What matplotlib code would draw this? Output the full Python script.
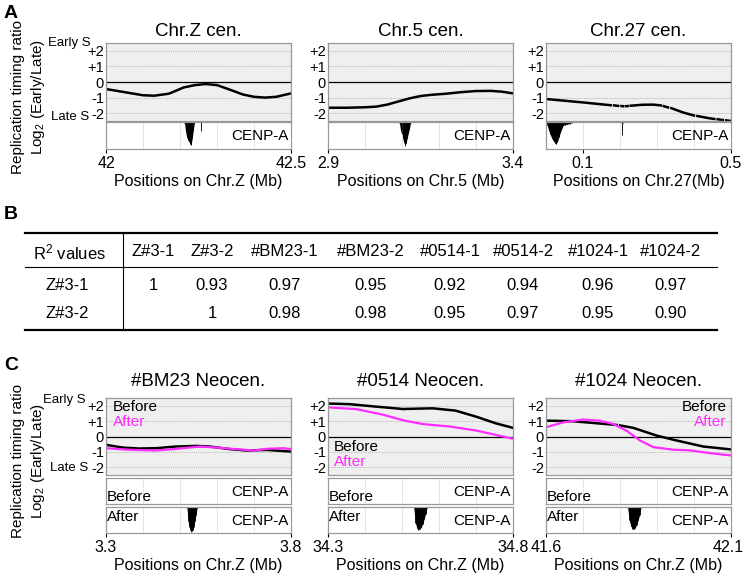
import numpy as np
import matplotlib
matplotlib.use('Agg')
from matplotlib import pyplot as plt
from matplotlib import transforms

plt.rcParams['font.family'] = ['Liberation Sans', 'DejaVu Sans']
plt.rcParams['mathtext.fontset'] = 'custom'
plt.rcParams['mathtext.rm'] = 'Liberation Sans'
plt.rcParams['mathtext.it'] = 'Liberation Sans:italic'

nan = np.nan

# ---- panel A data ----
a_titles = ['Chr.Z cen.', 'Chr.5 cen.', 'Chr.27 cen.']
a_xlims = [(42.0, 42.5), (2.9, 3.4), (0.0, 0.5)]
a_xticks = [[42.0, 42.5], [2.9, 3.4], [0.1, 0.5]]
a_xticklabels = [['42', '42.5'], ['2.9', '3.4'], ['0.1', '0.5']]
a_xlabels = ['Positions on Chr.Z (Mb)', 'Positions on Chr.5 (Mb)', 'Positions on Chr.27(Mb)']

chrZ_x = [42.00, 42.05, 42.10, 42.13, 42.17, 42.21, 42.24, 42.27, 42.30, 42.33, 42.37, 42.40, 42.43, 42.46, 42.50]
chrZ_y = [-0.45, -0.65, -0.85, -0.88, -0.75, -0.35, -0.20, -0.13, -0.20, -0.45, -0.80, -0.95, -1.00, -0.95, -0.73]
chr5_x = [2.90, 2.95, 3.00, 3.03, 3.06, 3.09, 3.12, 3.15, 3.18, 3.22, 3.26, 3.30, 3.34, 3.37, 3.40]
chr5_y = [-1.65, -1.65, -1.62, -1.58, -1.45, -1.25, -1.05, -0.90, -0.82, -0.75, -0.65, -0.58, -0.57, -0.62, -0.73]
chr27_x = [0.00, 0.05, 0.10, 0.15, 0.175, 0.179, 0.184, 0.195, 0.199, 0.204, 0.208, 0.212, 0.216,
           0.221, 0.225, 0.229, 0.26, 0.29, 0.31, 0.314, 0.318, 0.33, 0.335, 0.339, 0.37, 0.40,
           0.405, 0.409, 0.44, 0.455, 0.460, 0.464, 0.478, 0.483, 0.487, 0.50]
chr27_y = [-1.09, -1.20, -1.31, -1.43, -1.49, nan, -1.50, -1.53, nan, -1.54, -1.55, nan, -1.55,
           -1.54, nan, -1.52, -1.46, -1.45, -1.50, nan, -1.55, -1.63, nan, -1.68, -1.95, -2.15,
           nan, -2.18, -2.32, -2.37, nan, -2.39, -2.44, nan, -2.46, -2.50]

cenA1_pos = [42.212, 42.215, 42.218, 42.221, 42.224, 42.227, 42.230, 42.233, 42.236, 42.239]
cenA1_dep = [0.02, 0.35, 0.55, 0.65, 0.72, 0.80, 0.86, 0.60, 0.30, 0.02]
cenA1b_pos = [42.256, 42.257, 42.258]
cenA1b_dep = [0.02, 0.35, 0.02]
cenA2_pos = [3.093, 3.096, 3.099, 3.102, 3.105, 3.108, 3.111, 3.114, 3.117, 3.120, 3.123]
cenA2_dep = [0.02, 0.30, 0.45, 0.60, 0.75, 0.88, 0.78, 0.60, 0.42, 0.25, 0.02]
cenA3_pos = [0.003, 0.007, 0.011, 0.015, 0.019, 0.023, 0.027, 0.031, 0.035, 0.039, 0.043, 0.047,
             0.052, 0.058, 0.064, 0.070]
cenA3_dep = [0.10, 0.30, 0.45, 0.58, 0.68, 0.76, 0.82, 0.72, 0.55, 0.38, 0.22, 0.12,
             0.10, 0.08, 0.06, 0.02]
cenA3b_pos = [0.205, 0.206, 0.207]
cenA3b_dep = [0.02, 0.48, 0.02]

# ---- panel B data ----
table_cols = ['Z#3-1', 'Z#3-2', '#BM23-1', '#BM23-2', '#0514-1', '#0514-2', '#1024-1', '#1024-2']
table_rows = ['Z#3-1', 'Z#3-2']
r2_row1 = ['1', '0.93', '0.97', '0.95', '0.92', '0.94', '0.96', '0.97']
r2_row2 = ['', '1', '0.98', '0.98', '0.95', '0.97', '0.95', '0.90']

# ---- panel C data ----
c_titles = ['#BM23 Neocen.', '#0514 Neocen.', '#1024 Neocen.']
c_xlims = [(3.3, 3.8), (34.3, 34.8), (41.6, 42.1)]
c_xticklabels = [['3.3', '3.8'], ['34.3', '34.8'], ['41.6', '42.1']]
c_xlabels = ['Positions on Chr.Z (Mb)'] * 3

bm23_bx = [3.30, 3.345, 3.39, 3.435, 3.49, 3.545, 3.58, 3.635, 3.68, 3.735, 3.80]
bm23_by = [-0.54, -0.72, -0.78, -0.76, -0.65, -0.61, -0.65, -0.82, -0.91, -0.87, -0.98]
bm23_ax = [3.30, 3.335, 3.375, 3.435, 3.49, 3.555, 3.60, 3.65, 3.70, 3.735, 3.78, 3.80]
bm23_ay = [-0.76, -0.82, -0.87, -0.91, -0.80, -0.65, -0.72, -0.82, -0.91, -0.80, -0.76, -0.82]
n0514_bx = [34.30, 34.358, 34.43, 34.505, 34.51, 34.583, 34.645, 34.70, 34.753, 34.80]
n0514_by = [2.14, 2.10, 1.94, 1.78, 1.79, 1.83, 1.68, 1.29, 0.86, 0.56]
n0514_ax = [34.30, 34.376, 34.448, 34.507, 34.556, 34.628, 34.70, 34.762, 34.80]
n0514_ay = [1.89, 1.78, 1.42, 1.03, 0.81, 0.65, 0.39, 0.06, -0.15]
n1024_bx = [41.60, 41.674, 41.737, 41.791, 41.795, 41.80, 41.836, 41.899, 41.953, 42.025, 42.10]
n1024_by = [1.03, 0.99, 0.86, 0.75, nan, 0.72, 0.56, 0.06, -0.26, -0.65, -0.84]
n1024_ax = [41.60, 41.647, 41.70, 41.745, 41.781, 41.817, 41.854, 41.89, 41.944, 41.989, 42.043, 42.10]
n1024_ay = [0.60, 0.92, 1.10, 1.03, 0.82, 0.39, -0.26, -0.69, -0.86, -0.90, -1.08, -1.23]

cenC1_pos = [3.519, 3.522, 3.525, 3.528, 3.531, 3.534, 3.537, 3.540, 3.543, 3.546]
cenC1_dep = [0.05, 0.55, 0.75, 0.88, 0.95, 0.90, 0.75, 0.55, 0.30, 0.05]
cenC2_pos = [34.532, 34.536, 34.540, 34.544, 34.548, 34.552, 34.556, 34.560, 34.564, 34.567]
cenC2_dep = [0.05, 0.60, 0.80, 0.88, 0.85, 0.78, 0.65, 0.45, 0.25, 0.05]
cenC3_pos = [41.821, 41.825, 41.829, 41.833, 41.837, 41.841, 41.845, 41.849, 41.853, 41.856]
cenC3_dep = [0.05, 0.50, 0.72, 0.84, 0.86, 0.80, 0.68, 0.50, 0.30, 0.05]

W, H = 745, 574
fig = plt.figure(figsize=(W / 100, H / 100), dpi=100)

def box(x, y, w, h):
    return fig.add_axes([x / W, 1 - (y + h) / H, w / W, h / H])

def ftext(x, y, s, **kw):
    fig.text(x / W, 1 - y / H, s, **kw)

col_x = [106, 328, 546]
col_w = 185
edge = '#999999'
magenta = '#ff2bff'

def timing_axes(ax, xlim):
    ax.set_facecolor('#efefef')
    ax.set_xlim(*xlim)
    ax.set_ylim(-2.5, 2.5)
    for v in [2, 1, -1, -2]:
        ax.axhline(v, color='#a0a0a0', lw=0.6, ls=(0, (1, 1.5)))
    ax.axhline(0, color='k', lw=0.9)
    ax.set_xticks([])
    ax.set_yticks([2, 1, 0, -1, -2])
    ax.set_yticklabels(['+2', '+1', '0', '-1', '-2'])
    ax.tick_params(axis='y', length=0, pad=1.5, labelsize=10.5)
    for s in ax.spines.values():
        s.set_color(edge)
        s.set_linewidth(0.9)

def peak(ax, pos, dep):
    top = np.ones(len(pos))
    low = 1 - np.array(dep)
    ax.fill_between(pos, low, top, color='k', lw=0)
    ax.vlines(pos, low, 1, color='k', lw=0.6)

def cenpa_axes(ax, xlim, peaks=()):
    ax.set_xlim(*xlim)
    ax.set_ylim(0, 1)
    step = 0.1
    g = np.arange(np.ceil(xlim[0] / step + 1e-6) * step, xlim[1] - 1e-6, step)
    for v in g:
        ax.axvline(v, color='#e2e2e2', lw=0.6)
    for pos, dep in peaks:
        peak(ax, pos, dep)
    ax.set_yticks([])
    ax.set_xticks([])
    for s in ax.spines.values():
        s.set_color(edge)
        s.set_linewidth(0.9)

def bottom_ticks(ax, ticks, labels, xlabel):
    ax.set_xticks(ticks)
    ax.set_xticklabels(labels)
    ax.tick_params(axis='x', direction='out', length=3, width=0.8, pad=2, labelsize=11.5)
    ax.set_xlabel(xlabel, fontsize=11.5, labelpad=2)

# ---------------- Panel A ----------------
a_curves = [(chrZ_x, chrZ_y), (chr5_x, chr5_y), (chr27_x, chr27_y)]
a_cen = [[(cenA1_pos, cenA1_dep), (cenA1b_pos, cenA1b_dep)],
         [(cenA2_pos, cenA2_dep)],
         [(cenA3_pos, cenA3_dep), (cenA3b_pos, cenA3b_dep)]]
for i in range(3):
    ax = box(col_x[i], 43, col_w, 78)
    timing_axes(ax, a_xlims[i])
    ax.plot(a_curves[i][0], a_curves[i][1], color='k', lw=1.8)
    cx = box(col_x[i], 122, col_w, 27)
    cenpa_axes(cx, a_xlims[i], a_cen[i])
    cx.text(0.985, 0.48, 'CENP-A', transform=cx.transAxes, ha='right', va='center', fontsize=11)
    bottom_ticks(cx, a_xticks[i], a_xticklabels[i], a_xlabels[i])
    ftext(col_x[i] + col_w / 2, 31, a_titles[i], ha='center', va='center', fontsize=13.5)

ftext(4, 13, 'A', fontsize=14, fontweight='bold', va='center')
ftext(91, 43, 'Early S', ha='right', va='center', fontsize=9.5)
ftext(89, 117, 'Late S', ha='right', va='center', fontsize=9.5)
ftext(18, 97, 'Replication timing ratio', rotation=90, ha='center', va='center', fontsize=11)
ftext(38, 97, 'Log$_2$ (Early/Late)', rotation=90, ha='center', va='center', fontsize=11)

# ---------------- Panel B ----------------
ftext(4, 215, 'B', fontsize=14, fontweight='bold', va='center')
tb = box(0, 220, W, 120)
tb.set_xlim(0, W)
tb.set_ylim(120, 0)
tb.axis('off')
x0, x1 = 25, 717
tb.plot([x0, x1], [12.7, 12.7], color='k', lw=1.6)
tb.plot([x0, x1], [46.7, 46.7], color='k', lw=0.8)
tb.plot([x0, x1], [110, 110], color='k', lw=1.6)
tb.plot([123, 123], [12.7, 110], color='k', lw=0.8)
col_cx = [153, 212, 285, 371, 450, 523, 598, 671]
tb.text(70, 32, 'R$^2$ values', ha='center', va='center', fontsize=12)
for cx_, lab in zip(col_cx, table_cols):
    tb.text(cx_, 32, lab, ha='center', va='center', fontsize=12)
for ry, rlab, vals in zip([65, 93], table_rows, [r2_row1, r2_row2]):
    tb.text(67, ry, rlab, ha='center', va='center', fontsize=12)
    for cx_, v in zip(col_cx, vals):
        tb.text(cx_, ry, v, ha='center', va='center', fontsize=12)

# ---------------- Panel C ----------------
c_before = [(bm23_bx, bm23_by), (n0514_bx, n0514_by), (n1024_bx, n1024_by)]
c_after = [(bm23_ax, bm23_ay), (n0514_ax, n0514_ay), (n1024_ax, n1024_ay)]
c_cen = [(cenC1_pos, cenC1_dep), (cenC2_pos, cenC2_dep), (cenC3_pos, cenC3_dep)]
lab_pos = [(0.035, 0.885, 0.69, 'left'), (0.03, 0.36, 0.165, 'left'), (0.975, 0.879, 0.692, 'right')]
for i in range(3):
    ax = box(col_x[i], 398, col_w, 77)
    timing_axes(ax, c_xlims[i])
    ax.plot(c_before[i][0], c_before[i][1], color='k', lw=1.8)
    ax.plot(c_after[i][0], c_after[i][1], color=magenta, lw=1.6)
    lx, by_, ay_, ha = lab_pos[i]
    ax.text(lx, by_, 'Before', transform=ax.transAxes, ha=ha, va='center', fontsize=11, color='k')
    ax.text(lx, ay_, 'After', transform=ax.transAxes, ha=ha, va='center', fontsize=11, color=magenta)

    bx = box(col_x[i], 478, col_w, 26)
    cenpa_axes(bx, c_xlims[i])
    bx.text(0.005, 0.26, 'Before', transform=bx.transAxes, ha='left', va='center', fontsize=11)
    bx.text(0.985, 0.47, 'CENP-A', transform=bx.transAxes, ha='right', va='center', fontsize=11)

    afx = box(col_x[i], 507, col_w, 26)
    cenpa_axes(afx, c_xlims[i], [c_cen[i]])
    afx.text(0.005, 0.62, 'After', transform=afx.transAxes, ha='left', va='center', fontsize=11)
    afx.text(0.985, 0.47, 'CENP-A', transform=afx.transAxes, ha='right', va='center', fontsize=11)
    bottom_ticks(afx, list(c_xlims[i]), c_xticklabels[i], c_xlabels[i])
    ftext(col_x[i] + col_w / 2, 382, c_titles[i], ha='center', va='center', fontsize=13.5)
    if i == 2:
        # keep the last tick label inside the canvas
        lab = afx.get_xticklabels()[-1]
        lab.set_transform(lab.get_transform() +
                          transforms.ScaledTranslation(-3 / 100, 0, fig.dpi_scale_trans))

ftext(4, 366, 'C', fontsize=14, fontweight='bold', va='center')
ftext(86, 400, 'Early S', ha='right', va='center', fontsize=9.5)
ftext(88, 468, 'Late S', ha='right', va='center', fontsize=9.5)
ftext(18, 461, 'Replication timing ratio', rotation=90, ha='center', va='center', fontsize=11)
ftext(38, 461, 'Log$_2$ (Early/Late)', rotation=90, ha='center', va='center', fontsize=11)

fig.savefig('out.png', dpi=100)
